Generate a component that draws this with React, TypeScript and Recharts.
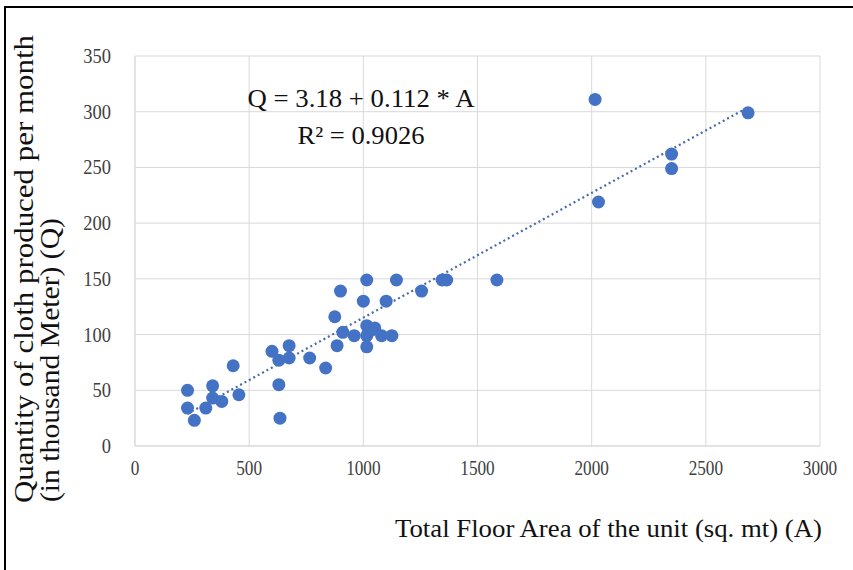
import React from "react";
import {
  ScatterChart,
  Scatter,
  XAxis,
  YAxis,
  CartesianGrid,
  Customized,
} from "recharts";

// floor area (sq. mt) and monthly production (thousand m)
const AREA = [
  230, 230, 260, 310, 340, 340, 380, 430, 455, 600, 630, 675, 675, 765, 835,
  630, 635, 875, 900, 910, 885, 960, 1000, 1015, 1015, 1015, 1015, 1035, 1050,
  1080, 1100, 1125, 1145, 1255, 1345, 1365, 1585, 2015, 2030, 2350, 2350, 2685,
];
const QTY = [
  50, 34, 23, 34, 54, 43, 40, 72, 46, 85, 77, 90, 79, 79, 70, 55, 25, 116, 139,
  102, 90, 99, 130, 149, 108, 99, 89, 104, 106, 99, 130, 99, 149, 139, 149, 149,
  149, 311, 219, 262, 249, 299,
];

const X_TICKS = [0, 500, 1000, 1500, 2000, 2500, 3000];
const Y_TICKS = [0, 50, 100, 150, 200, 250, 300, 350];

const INTERCEPT = 3.18;
const SLOPE = 0.112;
const R2 = "0.9026";

const FONT = "'Liberation Serif', 'Times New Roman', serif";
const BLUE = "#4472C4";

const points = AREA.map((a, i) => ({ area: a, qty: QTY[i] }));
const minA = Math.min(...AREA);
const maxA = Math.max(...AREA);
const trend = [minA, maxA].map((a) => ({ area: a, qty: INTERCEPT + SLOPE * a }));

const XTick = ({ x, y, payload }: any) => (
  <text
    transform={`translate(${x},${y + 21}) scale(0.82,1)`}
    textAnchor="middle"
    fontFamily={FONT}
    fontSize={21}
    fill="#404040"
  >
    {payload.value}
  </text>
);

const YTick = ({ x, y, payload }: any) => (
  <text
    transform={`translate(${x - 16},${y + 7}) scale(0.88,1)`}
    textAnchor="end"
    fontFamily={FONT}
    fontSize={21}
    fill="#404040"
  >
    {payload.value}
  </text>
);

const Dot = (props: any) => (
  <circle cx={props.cx} cy={props.cy} r={6.5} fill={BLUE} />
);

const Labels = () => (
  <g fontFamily={FONT} fill="#111">
    <text
      x={361}
      y={107}
      fontSize={25}
      textAnchor="middle"
      textLength={227}
      lengthAdjust="spacingAndGlyphs"
    >
      Q = {INTERCEPT} + {SLOPE} * A
    </text>
    <text
      x={361}
      y={144}
      fontSize={25}
      textAnchor="middle"
      textLength={127}
      lengthAdjust="spacingAndGlyphs"
    >
      R² = {R2}
    </text>
    <text
      x={822}
      y={537}
      fontSize={26}
      textAnchor="end"
      textLength={427}
      lengthAdjust="spacingAndGlyphs"
    >
      Total Floor Area of the unit (sq. mt) (A)
    </text>
    <text
      transform="translate(33,503) rotate(-90)"
      fontSize={27}
      textLength={468}
      lengthAdjust="spacingAndGlyphs"
    >
      Quantity of cloth produced per month
    </text>
    <text
      transform="translate(59,502) rotate(-90)"
      fontSize={27}
      textLength={284}
      lengthAdjust="spacingAndGlyphs"
    >
      (in thousand Meter) (Q)
    </text>
  </g>
);

export default function App() {
  return (
    <div
      style={{
        position: "absolute",
        left: 0,
        top: 0,
        width: 853,
        height: 570,
        background: "#fff",
      }}
    >
      <div
        style={{
          position: "absolute",
          left: 4,
          top: 6,
          right: 0,
          bottom: 0,
          borderTop: "2px solid #000",
          borderLeft: "2px solid #000",
        }}
      />
      <ScatterChart
        width={853}
        height={570}
        margin={{ top: 56, right: 33, bottom: 0, left: 0 }}
      >
        <CartesianGrid stroke="#d9d9d9" strokeWidth={1} />
        <XAxis
          type="number"
          dataKey="area"
          domain={[0, 3000]}
          ticks={X_TICKS}
          height={124}
          axisLine={{ stroke: "#d9d9d9" }}
          tickLine={false}
          tick={<XTick />}
          interval={0}
        />
        <YAxis
          type="number"
          dataKey="qty"
          domain={[0, 350]}
          ticks={Y_TICKS}
          width={135}
          axisLine={{ stroke: "#d9d9d9" }}
          tickLine={false}
          tick={<YTick />}
          interval={0}
        />
        <Scatter
          data={trend}
          line={{ stroke: "#4a6aa8", strokeWidth: 2.2, strokeDasharray: "2 3" }}
          shape={() => null}
          isAnimationActive={false}
        />
        <Scatter
          data={points}
          shape={<Dot />}
          isAnimationActive={false}
        />
        <Customized component={Labels} />
      </ScatterChart>
    </div>
  );
}
